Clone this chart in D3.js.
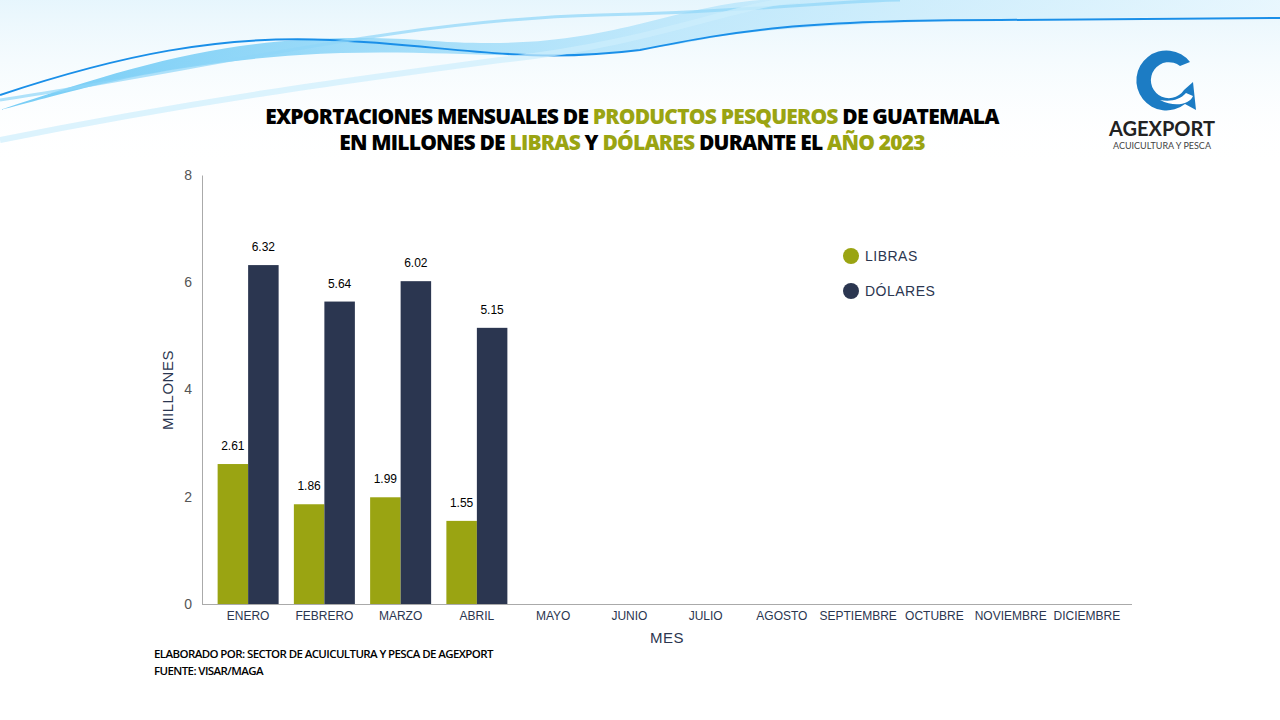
<!DOCTYPE html>
<html><head><meta charset="utf-8">
<script src="https://cdn.jsdelivr.net/npm/d3@7"></script>
<style>body{margin:0;background:#fff}svg{display:block}</style>
</head><body><svg id="c" width="1280" height="720"></svg>
<script>
const months=["ENERO","FEBRERO","MARZO","ABRIL","MAYO","JUNIO","JULIO","AGOSTO","SEPTIEMBRE","OCTUBRE","NOVIEMBRE","DICIEMBRE"];
const libras=[2.61,1.86,1.99,1.55,null,null,null,null,null,null,null,null];
const dolares=[6.32,5.64,6.02,5.15,null,null,null,null,null,null,null,null];
const yTicks=[0,2,4,6,8];
const seriesNames=["LIBRAS","DÓLARES"];
const colors=["#9aa412","#2b3650"];

const svg=d3.select("#c");
const defs=svg.append("defs");
const g1=defs.append("linearGradient").attr("id","wv").attr("x1","0").attr("x2","1");
g1.append("stop").attr("offset","0").attr("stop-color","#3db8f2");
g1.append("stop").attr("offset","0.5").attr("stop-color","#a9e0fa");
g1.append("stop").attr("offset","1").attr("stop-color","#e8f7fe");
const g2=defs.append("linearGradient").attr("id","fade").attr("x1","0").attr("x2","0").attr("y1","0").attr("y2","1");
g2.append("stop").attr("offset","0").attr("stop-color","#d6effb");
g2.append("stop").attr("offset","1").attr("stop-color","#fff").attr("stop-opacity",0);
svg.append("rect").attr("width",1280).attr("height",170).attr("fill","url(#fade)").attr("opacity",0.6);
svg.append("path").attr("d","M0,110 C150,60 250,30 420,40 C600,55 650,10 760,0 L1280,0 L1280,15 C1000,20 800,20 700,40 C550,70 450,45 300,55 C150,65 60,95 0,110Z").attr("fill","url(#wv)").attr("opacity",0.7);
svg.append("path").attr("d","M0,95 C120,55 220,35 330,40 C450,45 520,65 640,50 C740,30 800,20 1000,20 L1280,18").attr("fill","none").attr("stroke","#1a8fe8").attr("stroke-width",2);
svg.append("path").attr("d","M0,100 C200,70 400,20 600,15 C750,12 850,0 900,0").attr("fill","none").attr("stroke","#8fd6f8").attr("stroke-width",3).attr("opacity",0.7);
svg.append("path").attr("d","M0,140 C200,100 350,80 500,60 C650,45 750,0 800,0").attr("fill","none").attr("stroke","#cdeefc").attr("stroke-width",6).attr("opacity",0.7);

const t=svg.append("text").attr("x",632).attr("text-anchor","middle").attr("font-family","Open Sans, sans-serif").attr("font-weight",800).attr("font-size",21).attr("letter-spacing","-0.8");
const parts1=[["EXPORTACIONES MENSUALES DE ",0],["PRODUCTOS PESQUEROS",1],[" DE GUATEMALA",0]];
const parts2=[["EN MILLONES DE ",0],["LIBRAS",1],[" Y ",0],["DÓLARES",1],[" DURANTE EL ",0],["AÑO 2023",1]];
const l1=t.append("tspan").attr("x",632).attr("y",124);
parts1.forEach(p=>l1.append("tspan").text(p[0]).attr("fill",p[1]?colors[0]:"#000"));
const t2=svg.append("text").attr("x",632).attr("y",150).attr("text-anchor","middle").attr("font-family","Open Sans, sans-serif").attr("font-weight",800).attr("font-size",21).attr("letter-spacing","-0.8");
parts2.forEach(p=>t2.append("tspan").text(p[0]).attr("fill",p[1]?colors[0]:"#000"));

const lg=svg.append("g");
lg.append("path").attr("d","M1190,62 A30,30 0 1 0 1185,104 L1196,110 L1193,82 L1184,90 A18,18 0 1 1 1180,66 Z").attr("fill","#1c7cc4");
lg.append("path").attr("d","M1160,100 C1175,108 1190,104 1193,96 L1186,93 C1180,100 1170,102 1160,100Z").attr("fill","#fff");
lg.append("text").attr("x",1162).attr("y",136).attr("text-anchor","middle").attr("font-family","Lato, sans-serif").attr("font-weight",700).attr("font-size",20).attr("fill","#222").text("AGEXPORT");
lg.append("text").attr("x",1162).attr("y",149).attr("text-anchor","middle").attr("font-family","Lato, sans-serif").attr("font-size",9).attr("fill","#444").text("ACUICULTURA Y PESCA");

const x=d3.scaleBand().domain(months).range([210,1125]).paddingInner(0.2).paddingOuter(0.1);
const y=d3.scaleLinear().domain([0,8]).range([604,175]);
const xs=d3.scaleBand().domain([0,1]).range([0,x.bandwidth()]);
const ga=svg.append("g").attr("transform","translate(202,0)").call(d3.axisLeft(y).tickValues(yTicks).tickSize(0).tickPadding(10));
ga.selectAll("text").attr("font-family","Liberation Sans, Arial").attr("font-size",14).attr("fill","#555");
ga.select(".domain").attr("stroke","#aaa");
const gx=svg.append("g").attr("transform","translate(0,604)").call(d3.axisBottom(x).tickSize(0).tickPadding(7));
gx.select(".domain").attr("d","M202,0.5H1132").attr("stroke","#aaa");
gx.selectAll("text").attr("font-family","Liberation Sans, Arial").attr("font-size",12).attr("fill","#2b3650");

[libras,dolares].forEach((arr,si)=>{
  arr.forEach((v,i)=>{ if(v==null)return;
    const bx=x(months[i])+xs(si);
    svg.append("rect").attr("x",bx).attr("y",y(v)).attr("width",xs.bandwidth()).attr("height",y(0)-y(v)).attr("fill",colors[si]);
    svg.append("text").attr("x",bx+xs.bandwidth()/2).attr("y",y(v)-14).attr("text-anchor","middle").attr("font-family","Liberation Sans, Arial").attr("font-size",12).attr("fill","#000").text(v.toFixed(2));
  });
});
svg.append("text").attr("x",667).attr("y",643).attr("text-anchor","middle").attr("font-family","Liberation Sans, Arial").attr("font-size",15).attr("fill","#2b3650").attr("letter-spacing","0.5").text("MES");
svg.append("text").attr("transform","translate(173,390) rotate(-90)").attr("text-anchor","middle").attr("font-family","Liberation Sans, Arial").attr("font-size",15).attr("fill","#2b3650").attr("letter-spacing","0.5").text("MILLONES");
seriesNames.forEach((n,i)=>{
  svg.append("circle").attr("cx",851).attr("cy",256+i*35).attr("r",8).attr("fill",colors[i]);
  svg.append("text").attr("x",865).attr("y",261+i*35).attr("font-family","Liberation Sans, Arial").attr("font-size",14).attr("fill","#2b3650").attr("letter-spacing","0.5").text(n);
});
svg.append("text").attr("x",154).attr("y",658).attr("font-family","Open Sans, sans-serif").attr("font-weight",600).attr("font-size",11.5).attr("letter-spacing","-0.6").text("ELABORADO POR: SECTOR DE ACUICULTURA Y PESCA DE AGEXPORT");
svg.append("text").attr("x",154).attr("y",675).attr("font-family","Open Sans, sans-serif").attr("font-weight",600).attr("font-size",11.5).attr("letter-spacing","-0.6").text("FUENTE: VISAR/MAGA");
</script></body></html>
